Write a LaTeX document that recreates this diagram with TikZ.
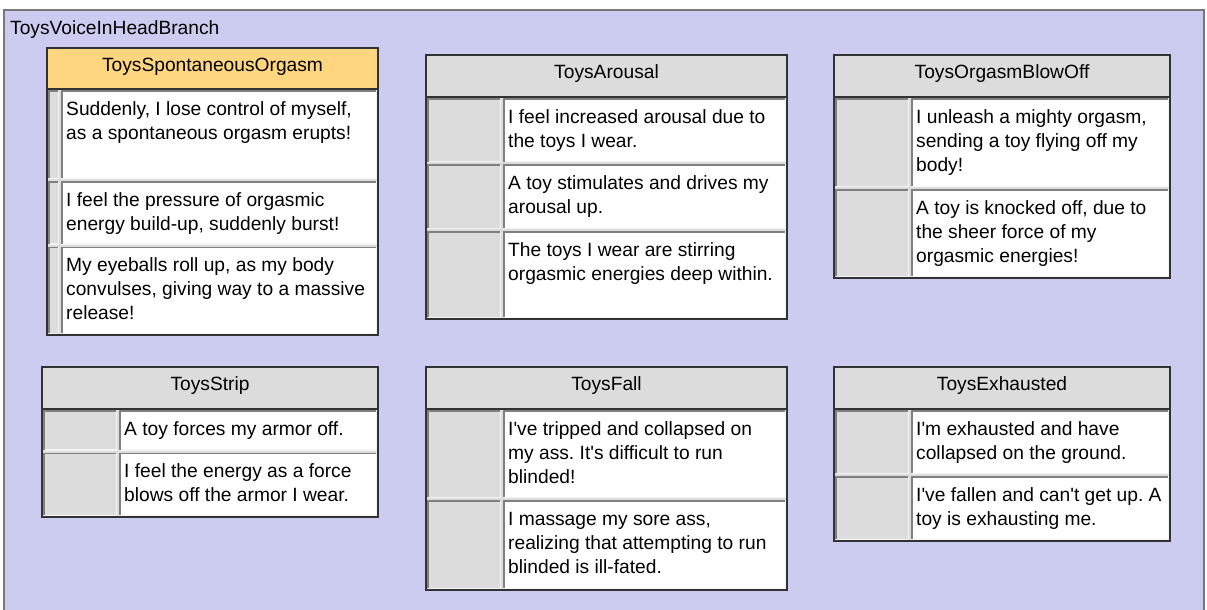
\documentclass[tikz,border=0pt]{standalone}
\usepackage{fontspec}
\newfontfamily\uifont{Liberation Sans}
\usepackage{tikz}
\usetikzlibrary{calc}
\usepackage{xcolor}
\frenchspacing
\definecolor{branchbg}{RGB}{204,204,240}
\definecolor{branchline}{RGB}{120,120,120}
\definecolor{headorange}{RGB}{255,214,128}
\definecolor{cellgray}{RGB}{220,220,220}
\definecolor{bevelgray}{RGB}{128,128,128}
\definecolor{bevellight}{RGB}{244,244,244}
\definecolor{frameline}{RGB}{50,50,50}

\tikzset{
  headtext/.style={font=\uifont\fontsize{19.2}{24}\selectfont, anchor=base, inner sep=0pt},
  rowtext/.style={font=\uifont\fontsize{19.2}{24}\selectfont, align=left, anchor=north west, inner sep=0pt},
  tableframe/.style={draw=frameline, line width=1.2pt},
  bevdark/.style={draw=bevelgray, line width=1.5pt},
  bevlight/.style={draw=bevellight, line width=1.5pt}
}

% #1 left, #2 right, #3 top, #4 header bottom, #5 bottom, #6 header fill, #7 name, #8 title
\newcommand{\toybox}[8]{%
  \filldraw[tableframe, fill=cellgray] (#1,#3) rectangle (#2,#5);
  \filldraw[tableframe, fill=#6] (#1,#3) rectangle (#2,#4);
  \node[headtext] (#7) at ({(#1+#2)/2},#3+23.5) {#8};
}
% #1 left, #2 split, #3 right, #4 top, #5 bottom, #6 name, #7 text
\newcommand{\toyrow}[7]{%
  \fill[cellgray] (#1+1,#4+1) rectangle (#2-1,#5-1);
  \draw[bevlight] (#1+1.75,#5-1.75) -| (#2-1.75,#4+1.75);
  \draw[bevdark] (#1+1.75,#5-1.75) |- (#2-1.75,#4+1.75);
  \fill[white] (#2+1,#4+1) rectangle (#3-1,#5-1);
  \draw[bevlight] (#2+1.75,#5-1.75) -| (#3-1.75,#4+1.75);
  \draw[bevdark] (#2+1.75,#5-1.75) |- (#3-1.75,#4+1.75);
  \node[rowtext] (#6) at (#2+6,#4+9.2) {\strut #7};
}

\begin{document}
\begin{tikzpicture}[x=1pt, y=-1pt]
  \useasboundingbox (0,0) rectangle (1207,610);
  \fill[white] (0,0) rectangle (1207,610);
  \filldraw[fill=branchbg, draw=branchline, line width=1.2pt] (4,10) rectangle (1204,625);
  \node[headtext, anchor=base west] (branch) at (10,35) {ToysVoiceInHeadBranch};

  \toybox{47}{378}{48}{89}{335}{headorange}{spont}{ToysSpontaneousOrgasm}
  \toyrow{47}{60}{378}{89}{180}{spontA}{Suddenly, I lose control of myself,\\as a spontaneous orgasm erupts!}
  \toyrow{47}{60}{378}{180}{245.5}{spontB}{I feel the pressure of orgasmic\\energy build-up, suddenly burst!}
  \toyrow{47}{60}{378}{245.5}{335}{spontC}{My eyeballs roll up, as my body\\convulses, giving way to a massive\\release!}

  \toybox{426}{787}{55}{97}{319}{cellgray}{arousal}{ToysArousal}
  \toyrow{426}{502}{787}{97}{163.3}{arousalA}{I feel increased arousal due to\\the toys I wear.}
  \toyrow{426}{502}{787}{163.3}{230}{arousalB}{A toy stimulates and drives my\\arousal up.}
  \toyrow{426}{502}{787}{230}{319}{arousalC}{The toys I wear are stirring\\orgasmic energies deep within.}

  \toybox{834}{1170}{55}{97}{278}{cellgray}{blowoff}{ToysOrgasmBlowOff}
  \toyrow{834}{910}{1170}{97}{188}{blowoffA}{I unleash a mighty orgasm,\\sending a toy flying off my\\body!}
  \toyrow{834}{910}{1170}{188}{278}{blowoffB}{A toy is knocked off, due to\\the sheer force of my\\orgasmic energies!}

  \toybox{42}{378}{367}{409}{517}{cellgray}{strip}{ToysStrip}
  \toyrow{42}{118}{378}{409}{451.5}{stripA}{A toy forces my armor off.}
  \toyrow{42}{118}{378}{451.5}{517}{stripB}{I feel the energy as a force\\blows off the armor I wear.}

  \toybox{426}{787}{367}{409}{590}{cellgray}{fall}{ToysFall}
  \toyrow{426}{502}{787}{409}{499}{fallA}{I've tripped and collapsed on\\my ass. It's difficult to run\\blinded!}
  \toyrow{426}{502}{787}{499}{590}{fallB}{I massage my sore ass,\\realizing that attempting to run\\blinded is ill-fated.}

  \toybox{834}{1170}{367}{409}{541}{cellgray}{exhaust}{ToysExhausted}
  \toyrow{834}{910}{1170}{409}{475}{exhaustA}{I'm exhausted and have\\collapsed on the ground.}
  \toyrow{834}{910}{1170}{475}{541}{exhaustB}{I've fallen and can't get up. A\\toy is exhausting me.}
\end{tikzpicture}
\end{document}
